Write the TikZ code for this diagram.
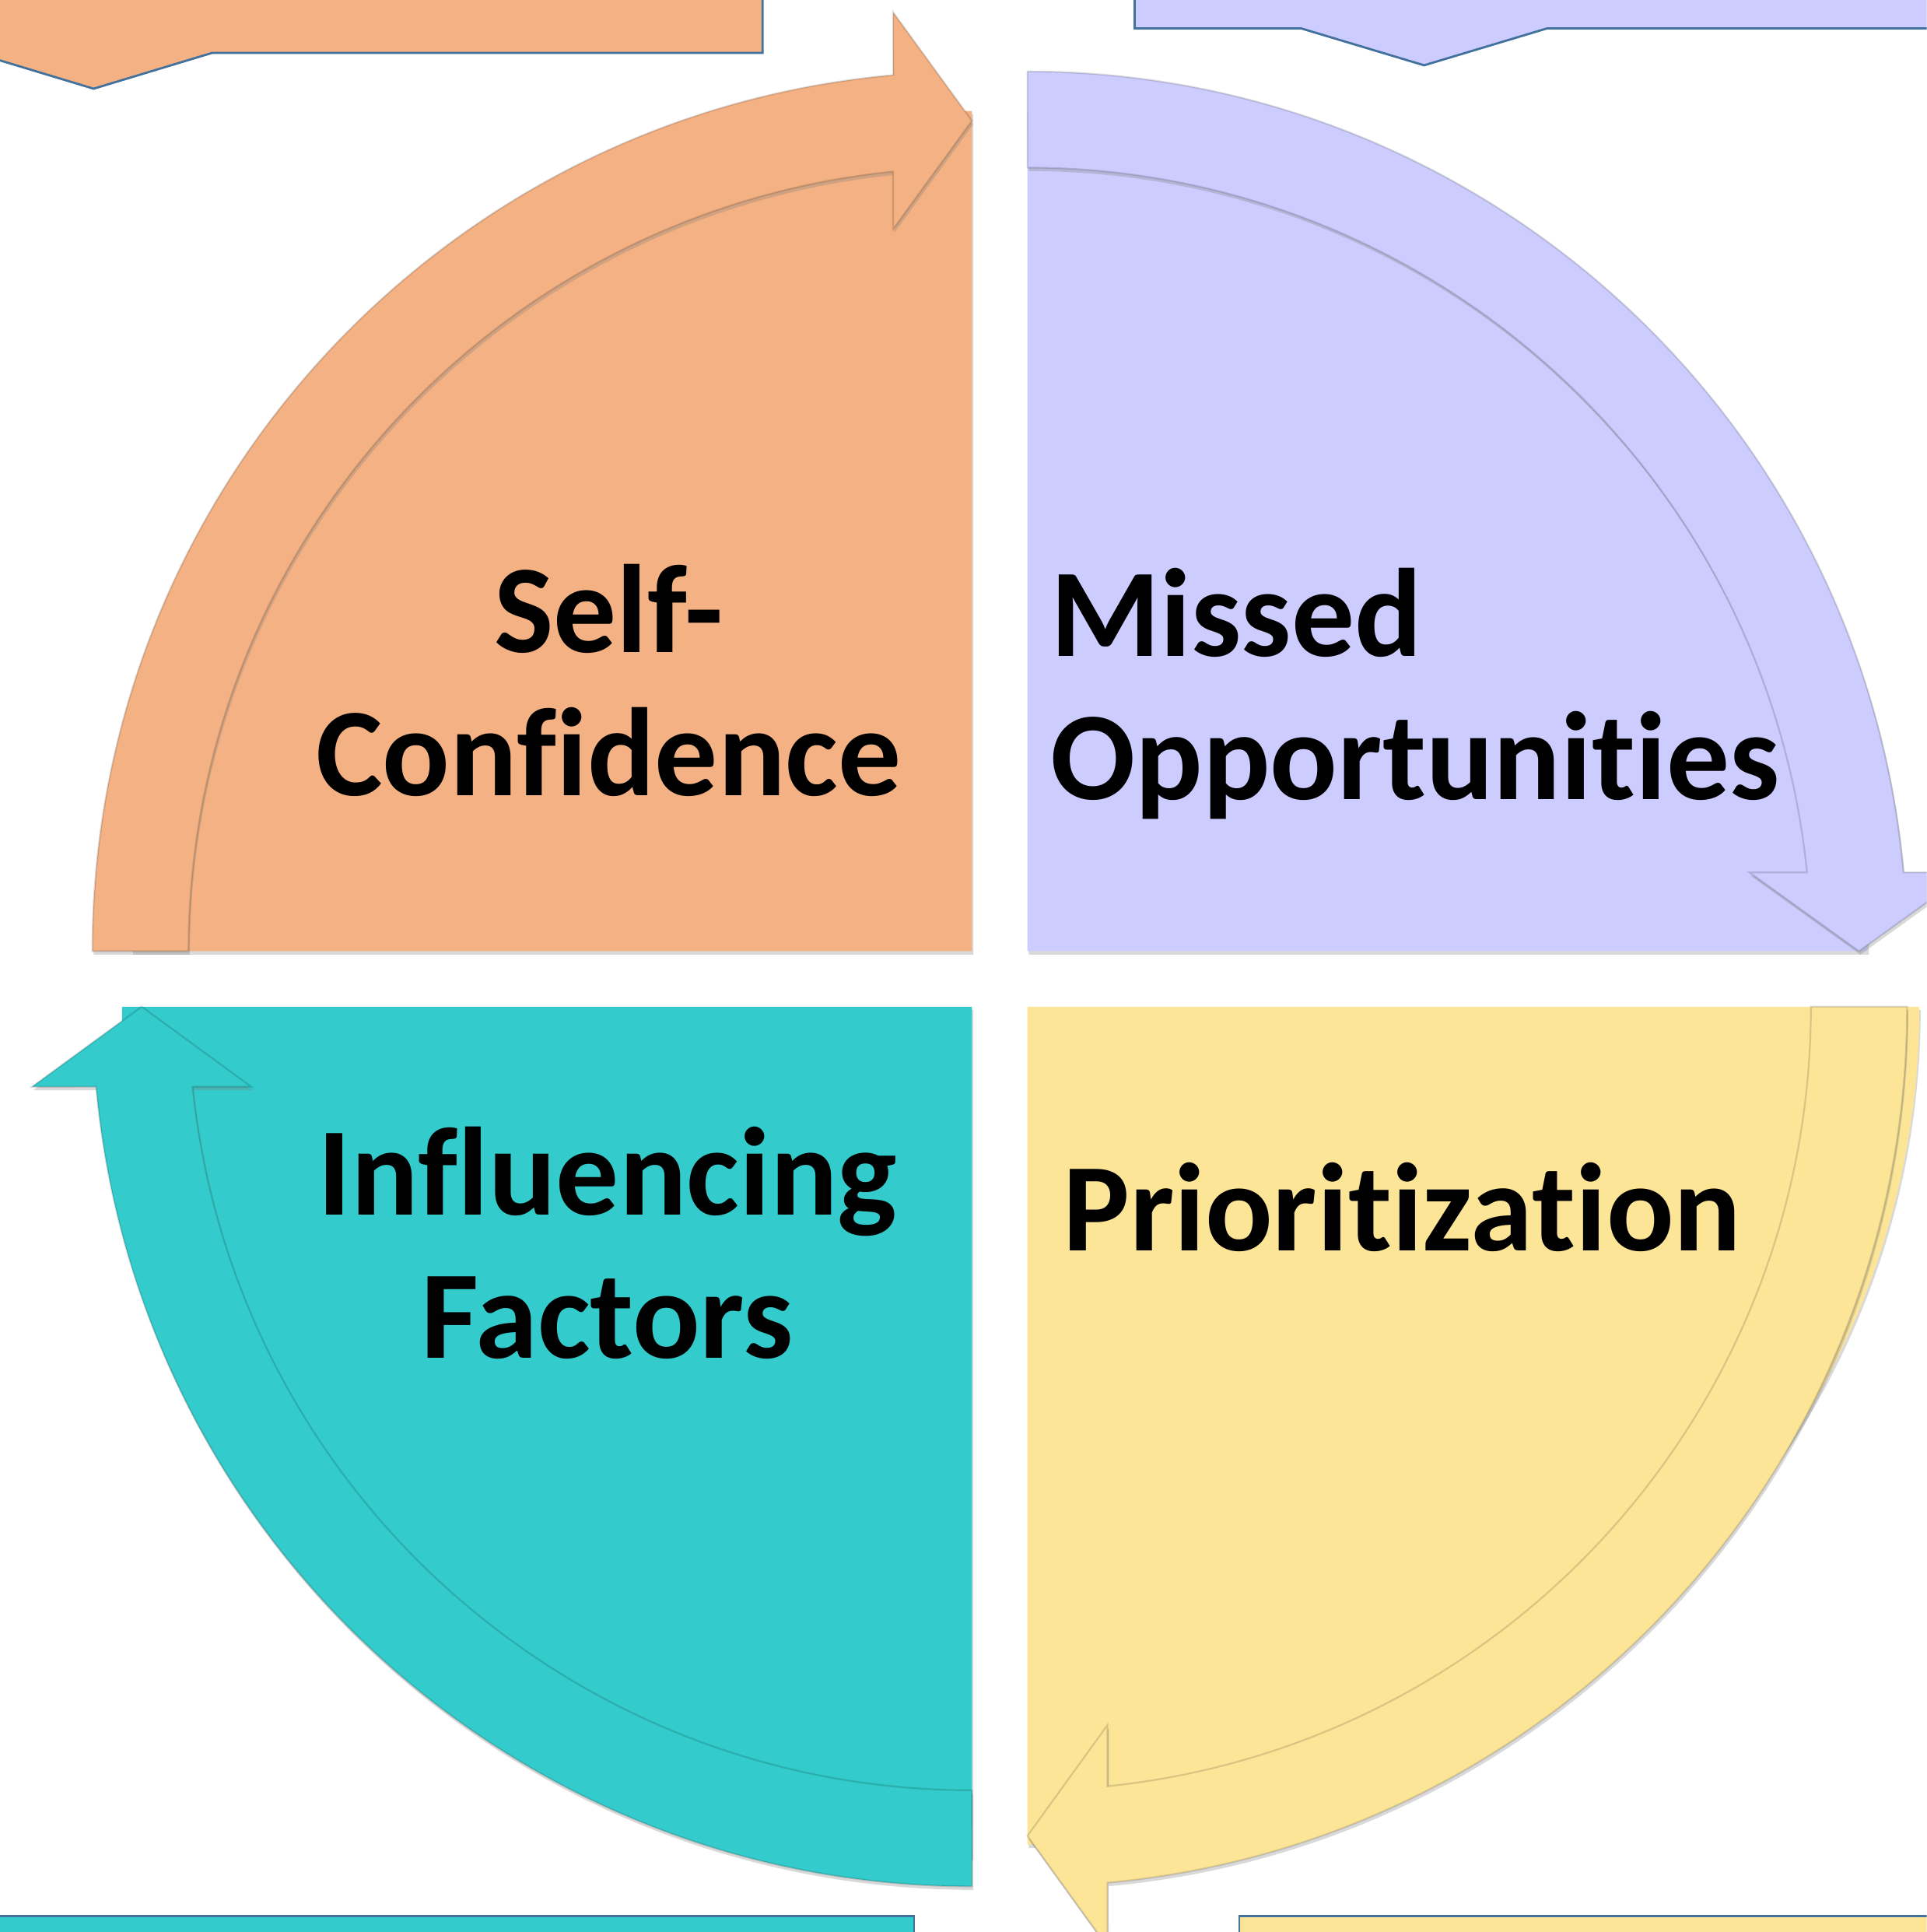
\documentclass[tikz,border=0pt]{standalone}
\usepackage{fontspec}
\setmainfont{Carlito}[Ligatures={NoCommon,NoContextual}]
\usetikzlibrary{shadows}

\definecolor{peach}{HTML}{F4B183}
\definecolor{lavender}{HTML}{CCCCFF}
\definecolor{aqua}{HTML}{33CBCB}
\definecolor{butter}{HTML}{FDE598}
\definecolor{edgeblue}{HTML}{41719C}

\tikzset{
  soft/.style={drop shadow={shadow xshift=0.3pt, shadow yshift=-0.8pt, opacity=0.3}},
  band/.style={soft, draw=black, draw opacity=0.14, line width=0.4pt},
  callout/.style={draw=edgeblue, line width=0.5pt},
  quadtext/.style={font=\fontsize{29}{33}\selectfont\bfseries, inner sep=0pt, text=black}
}

\begin{document}
\begin{tikzpicture}[x=0.01cm, y=0.01cm]
  \useasboundingbox (0,0) rectangle (1564,1568);
  \clip (0,0) rectangle (1564,1568);

  % corners of the four quarters
  \coordinate (NW) at (789,796);
  \coordinate (NE) at (834,796);
  \coordinate (SW) at (789,751);
  \coordinate (SE) at (834,751);

  % callout boxes cut by the page edge
  \filldraw[fill=peach, callout] (-50,1620) -- (619,1620) -- (619,1525) -- (172,1525)
    -- (76,1496) -- (-20,1525) -- (-50,1525) -- cycle;
  \filldraw[fill=lavender, callout] (921,1620) -- (921,1545) -- (1056,1545)
    -- (1156,1515) -- (1256,1545) -- (1620,1545) -- (1620,1620) -- cycle;
  \filldraw[fill=aqua, callout] (-50,-50) -- (-50,13) -- (742,13) -- (742,-50) -- cycle;
  \filldraw[fill=butter, callout] (1006,-50) -- (1006,13) -- (1620,13) -- (1620,-50) -- cycle;

  % top left
  \begin{scope}[shift={(NW)}]
    \fill[peach, soft] (0,0) -- (-682,0) arc[start angle=180, end angle=90, radius=682] -- cycle;
    \filldraw[fill=peach, band] (-714,0) arc[start angle=180, end angle=95.14, radius=714]
      -- (-64,762) -- (0,674) -- (-64,586) -- (-64,632.8)
      arc[start angle=95.78, end angle=180, radius=636] -- cycle;
  \end{scope}

  % top right
  \begin{scope}[shift={(NE)}]
    \fill[lavender, soft] (0,0) -- (682,0) arc[start angle=0, end angle=90, radius=682] -- cycle;
    \filldraw[fill=lavender, band] (0,714) arc[start angle=90, end angle=5.14, radius=714]
      -- (764,64) -- (675,0) -- (586,64) -- (632.8,64)
      arc[start angle=5.78, end angle=90, radius=636] -- cycle;
  \end{scope}

  % bottom left
  \begin{scope}[shift={(SW)}]
    \fill[aqua, soft] (0,0) -- (-690,0) arc[start angle=180, end angle=270, radius=690] -- cycle;
    \filldraw[fill=aqua, band] (0,-714) arc[start angle=270, end angle=185.22, radius=714]
      -- (-763,-65) -- (-674,0) -- (-585,-65) -- (-632.7,-65)
      arc[start angle=185.87, end angle=270, radius=636] -- cycle;
  \end{scope}

  % bottom right
  \begin{scope}[shift={(SE)}]
    \fill[butter, soft] (0,0) -- (724,0) arc[start angle=0, end angle=-90, x radius=724, y radius=680] -- cycle;
    \filldraw[fill=butter, band] (714,0) arc[start angle=0, end angle=-84.78, radius=714]
      -- (65,-763) -- (0,-673) -- (65,-583) -- (65,-632.7)
      arc[start angle=-84.13, end angle=0, radius=636] -- cycle;
  \end{scope}

  \node[quadtext, align=center] (self) at (494,1016) {Self-\\Confidence};
  \node[quadtext, align=left, anchor=west] (missed) at (852,1005) {Missed\\Opportunities};
  \node[quadtext, align=center] (influence) at (493,559) {Influencing\\Factors};
  \node[quadtext, anchor=base west] (prior) at (862,553) {Prioritization};
\end{tikzpicture}
\end{document}
